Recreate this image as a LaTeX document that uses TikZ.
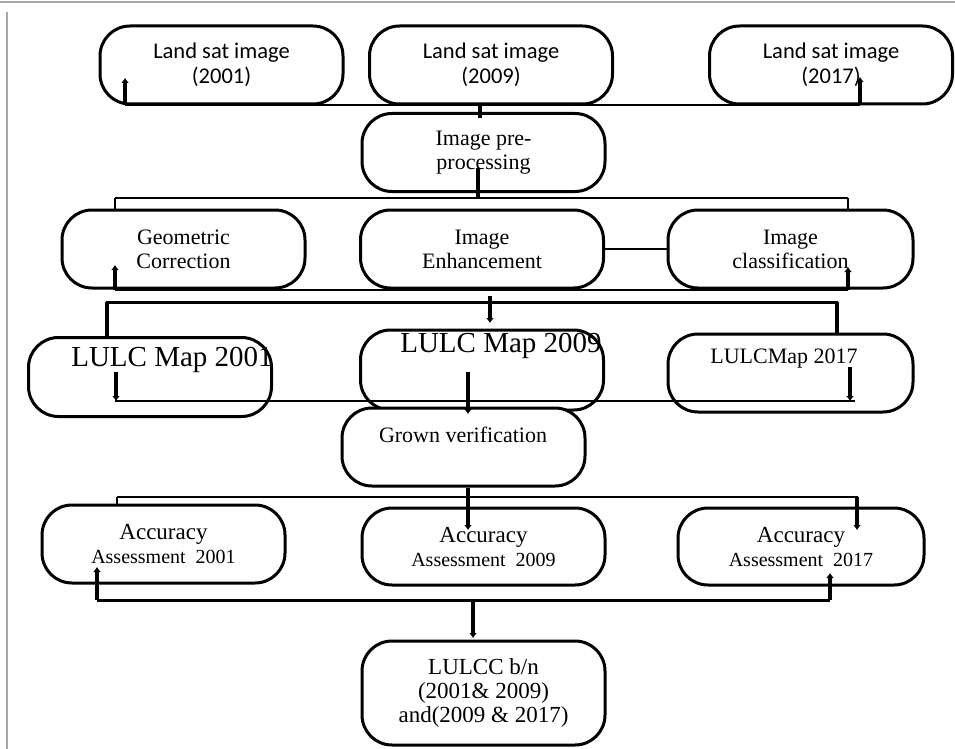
\documentclass[tikz,border=0pt]{standalone}
\usepackage{fontspec}
\setmainfont{Liberation Serif}
\newfontfamily\landfont{Carlito}
\usetikzlibrary{positioning,arrows.meta}
\tikzset{
    flow-box/.style = {draw=black, fill=white, line width=3pt, rectangle, rounded corners=30pt, minimum width=243pt, minimum height=78pt, inner sep=0pt, align=center, font=\fontsize{22}{24}\selectfont},
    land-box/.style = {flow-box, font=\landfont\fontsize{22.5}{25}\selectfont},
    map-text/.style = {inner sep=0pt, font=\fontsize{29}{30}\selectfont},
    bus-line/.style = {line width=2.2pt},
    drop-line/.style = {line width=4pt},
    tip-line/.style = {line width=4pt, -{Latex[length=5pt,width=8pt]}},
    frame-line/.style = {draw=black!35, line width=1.2pt},
}
\newcommand{\assess}[1]{{\fontsize{23}{23}\selectfont Accuracy}\\{\fontsize{20}{23}\selectfont Assessment\ \ #1}}
\begin{document}
\begin{tikzpicture}[x=1pt,y=-1pt]
\useasboundingbox (0,0) rectangle (955,749);
\draw[frame-line] (0,2) -- (955,2);
\draw[frame-line] (7,12) -- (7,749);

\node[land-box] (land1) at (221.5,65) {Land sat image\\(2001)};
\node[land-box] (land2) at (491,65) {Land sat image\\(2009)};
\node[land-box] (land3) at (831,65) {Land sat image\\(2017)};
\node[flow-box] (prep) at (483.5,152.5) {Image pre-\\processing};
\node[flow-box] (geom) at (183.5,249) {Geometric\\Correction};
\node[flow-box] (enh) at (482,249) {Image\\Enhancement};
\node[flow-box, minimum width=245pt] (cls) at (790.5,249) {Image\\classification};
\node[flow-box, minimum height=79pt] (map1) at (150,377) {};
\node[flow-box, minimum height=80pt] (map2) at (482,370) {};
\node[flow-box, minimum width=245pt] (map3) at (790.5,373) {};
\node[map-text] (map1-text) at (172,360) {LULC Map 2001};
\node[map-text] (map2-text) at (501,346) {LULC Map 2009};
\node[map-text, font=\fontsize{22}{24}\selectfont] (map3-text) at (784,359) {LULCMap 2017};
\node[flow-box] (grown) at (463.5,447) {};
\node[map-text, font=\fontsize{22}{24}\selectfont] (grown-text) at (463,435) {Grown verification};
\node[flow-box] (acc1) at (163.5,544) {\assess{2001}};
\node[flow-box, minimum height=77pt] (acc2) at (483.5,546.5) {\assess{2009}};
\node[flow-box, minimum width=246pt, minimum height=77pt] (acc3) at (801,546.5) {\assess{2017}};
\node[flow-box, minimum height=104pt, font=\fontsize{23}{24}\selectfont] (change) at (483.5,693) {LULCC b/n\\(2001\& 2009)\\and(2009 \& 2017)};

\coordinate (bus1-l) at (125,105);
\coordinate (bus1-r) at (860,105);
\coordinate (land1-tip) at (125,78);
\coordinate (land3-tip) at (860,77);
\coordinate (prep-in) at (480,118);
\draw[bus-line] (bus1-l) -- (bus1-r);
\draw[tip-line] (bus1-l) -- (land1-tip);
\draw[tip-line] (bus1-r) -- (land3-tip);
\draw[drop-line] (prep-in |- bus1-l) -- (prep-in);

\coordinate (bus2-l) at (115,198);
\coordinate (bus2-r) at (848,198);
\coordinate (prep-out) at (478,168);
\draw[bus-line] (bus2-l) -- (bus2-r);
\draw[drop-line] (prep-out) -- (prep-out |- bus2-l);
\draw[bus-line] (bus2-l) -- (bus2-l |- geom.north);
\draw[bus-line] (bus2-r) -- (bus2-r |- cls.north);
\draw[line width=2.5pt] (enh.east) -- (cls.west);

\coordinate (bus3-l) at (115,290);
\coordinate (bus3-r) at (848,290);
\coordinate (geom-tip) at (115,265);
\coordinate (cls-tip) at (848,267);
\draw[bus-line] (bus3-l) -- (bus3-r);
\draw[tip-line] (bus3-l) -- (geom-tip);
\draw[tip-line] (bus3-r) -- (cls-tip);

\coordinate (bus4-l) at (106,302);
\coordinate (bus4-r) at (838,302);
\coordinate (map1-in) at (107,302);
\coordinate (map3-in) at (837,302);
\coordinate (map2-in) at (490,296);
\coordinate (map2-tip) at (490,323);
\draw[line width=3pt] (bus4-l) -- (bus4-r);
\draw[drop-line] (map1-in) -- (map1-in |- map1.north);
\draw[tip-line] (map2-in) -- (map2-tip);
\draw[drop-line] (map3-in) -- (map3-in |- map3.north);

\coordinate (bus5-l) at (115,401);
\coordinate (bus5-r) at (855,401);
\coordinate (map1-out) at (116,372);
\coordinate (map3-out) at (850,367);
\coordinate (map2-out) at (468,372);
\coordinate (grown-tip) at (468,414);
\draw[bus-line] (bus5-l) -- (bus5-r);
\draw[tip-line] (map1-out) -- (map1-out |- bus5-l);
\draw[tip-line] (map3-out) -- (map3-out |- bus5-l);
\draw[tip-line] (map2-out) -- (grown-tip);

\coordinate (bus6-l) at (117,497);
\coordinate (bus6-r) at (858,497);
\coordinate (acc2-tip) at (468,530);
\coordinate (acc3-tip) at (857,530);
\draw[line width=2.5pt] (bus6-l) -- (bus6-r);
\draw[bus-line] (bus6-l) -- (bus6-l |- acc1.north);
\draw[tip-line] (acc2-tip |- grown.south) -- (acc2-tip);
\draw[tip-line] (acc3-tip |- bus6-r) -- (acc3-tip);

\coordinate (bus7-l) at (97,600);
\coordinate (bus7-r) at (830,600);
\coordinate (acc1-tip) at (97,567);
\coordinate (acc3-out) at (830,573);
\coordinate (change-tip) at (473,638);
\draw[line width=3pt] (bus7-l) -- (bus7-r);
\draw[tip-line] (bus7-l) -- (acc1-tip);
\draw[tip-line] (bus7-r) -- (acc3-out);
\draw[tip-line] (change-tip |- bus7-l) -- (change-tip);
\end{tikzpicture}
\end{document}
